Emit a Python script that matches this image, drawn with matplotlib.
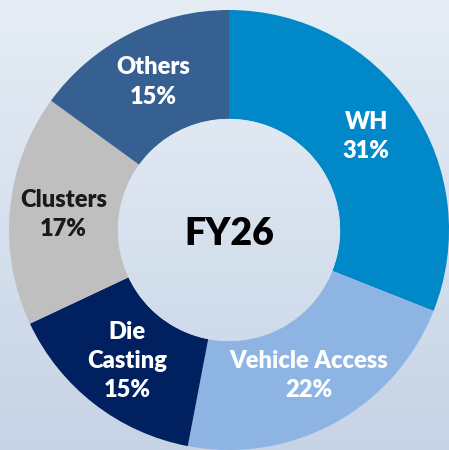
import numpy as np
import matplotlib
matplotlib.use("Agg")
import matplotlib.pyplot as plt
from matplotlib.patches import Circle

# data
segments = ["WH", "Vehicle Access", "Die\nCasting", "Clusters", "Others"]
shares = [31, 22, 15, 17, 15]
colors = ["#0088c9", "#8eb4e3", "#002060", "#bfbfbf", "#366092"]
label_colors = ["white", "white", "white", "#1a1a1a", "white"]
center_text = "FY26"

plt.rcParams['font.family'] = ['Lato', 'DejaVu Sans']

W, H = 449, 450
fig = plt.figure(figsize=(W / 100, H / 100), dpi=100)
ax = fig.add_axes([0, 0, 1, 1])

# pixel geometry of the donut
cx, cy, R = 229, 230, 220
xlim = (-cx / R, (W - cx) / R)
ylim = (-(H - cy) / R, cy / R)

# background gradient
grad = np.linspace(0, 1, 256).reshape(-1, 1)
top = np.array([0.90, 0.93, 0.96])
bot = np.array([0.78, 0.83, 0.90])
bg = top + (bot - top) * grad[..., None]
bg = np.repeat(bg, 2, axis=1)
ax.imshow(bg, extent=[xlim[0], xlim[1], ylim[0], ylim[1]],
          aspect="auto", zorder=0)

wedges, texts, autotexts = ax.pie(
    shares, labels=None, colors=colors, startangle=90, counterclock=False,
    radius=1.0, wedgeprops=dict(width=0.495, linewidth=0),
    autopct=lambda p: "", pctdistance=0.755)

for w in wedges:
    w.set_zorder(2)

for at, name, val, tc in zip(autotexts, segments, shares, label_colors):
    at.set_text(f"{name}\n{val}%")
    at.set_color(tc)
    at.set_fontsize(17)
    at.set_fontweight("heavy")
    at.set_ha("center")
    at.set_va("center")
    at.set_linespacing(1.4)
    at.set_zorder(4)

# center hole with a soft gradient
hole = Circle((0, 0), 0.505, transform=ax.transData, facecolor="none",
              edgecolor="none", zorder=3)
ax.add_patch(hole)
htop = np.array([0.88, 0.91, 0.95])
hbot = np.array([0.81, 0.86, 0.92])
hg = htop + (hbot - htop) * grad[..., None]
hg = np.repeat(hg, 2, axis=1)
im = ax.imshow(hg, extent=[-0.505, 0.505, -0.505, 0.505], aspect="auto",
               zorder=3)
im.set_clip_path(hole)

ax.text(0, -0.02, center_text, ha="center", va="center", fontsize=27,
        fontweight="heavy", color="black", zorder=5)

ax.set_xlim(xlim)
ax.set_ylim(ylim)
ax.set_aspect("auto")
ax.axis("off")

fig.savefig("out.png", dpi=100)
